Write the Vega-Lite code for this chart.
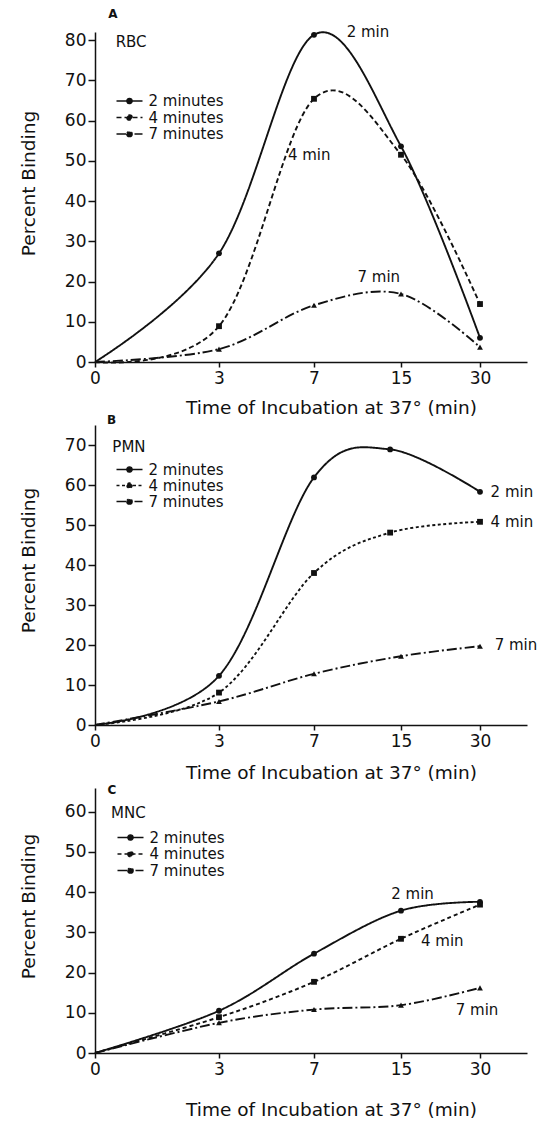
{
  "$schema": "https://vega.github.io/schema/vega-lite/v6.json",
  "background": "white",
  "padding": {"left": 19, "top": 8, "right": 0, "bottom": 0},
  "bounds": "flush",
  "spacing": 63,
  "config": {
    "font": "DejaVu Sans",
    "view": {"stroke": null},
    "axis": {
      "grid": false,
      "domainColor": "#111",
      "tickColor": "#111",
      "labelColor": "#111",
      "titleColor": "#111",
      "labelFont": "DejaVu Sans",
      "titleFont": "DejaVu Sans",
      "labelFontSize": 17,
      "titleFontSize": 18.5,
      "titleFontWeight": "normal",
      "domainWidth": 1.5,
      "tickWidth": 1.5
    },
    "legend": {
      "labelFont": "DejaVu Sans",
      "labelColor": "#111",
      "labelFontSize": 15
    },
    "text": {"font": "DejaVu Sans", "color": "#111"}
  },
  "datasets": {
    "pts": [
      {"panel": "A", "series": "2 minutes", "x": 0, "y": 0},
      {"panel": "A", "series": "2 minutes", "x": 3, "y": 27},
      {"panel": "A", "series": "2 minutes", "x": 7, "y": 81.3},
      {"panel": "A", "series": "2 minutes", "x": 15, "y": 53.6},
      {"panel": "A", "series": "2 minutes", "x": 30, "y": 6},
      {"panel": "A", "series": "4 minutes", "x": 0, "y": 0},
      {"panel": "A", "series": "4 minutes", "x": 3, "y": 8.9},
      {"panel": "A", "series": "4 minutes", "x": 7, "y": 65.4},
      {"panel": "A", "series": "4 minutes", "x": 15, "y": 51.5},
      {"panel": "A", "series": "4 minutes", "x": 30, "y": 14.4},
      {"panel": "A", "series": "7 minutes", "x": 0, "y": 0},
      {"panel": "A", "series": "7 minutes", "x": 3, "y": 3.2},
      {"panel": "A", "series": "7 minutes", "x": 7, "y": 14.1},
      {"panel": "A", "series": "7 minutes", "x": 15, "y": 16.9},
      {"panel": "A", "series": "7 minutes", "x": 30, "y": 3.7},
      {"panel": "B", "series": "2 minutes", "x": 0, "y": 0},
      {"panel": "B", "series": "2 minutes", "x": 3, "y": 12.3},
      {"panel": "B", "series": "2 minutes", "x": 7, "y": 61.9},
      {"panel": "B", "series": "2 minutes", "x": 14, "y": 68.9},
      {"panel": "B", "series": "2 minutes", "x": 30, "y": 58.3},
      {"panel": "B", "series": "4 minutes", "x": 0, "y": 0},
      {"panel": "B", "series": "4 minutes", "x": 3, "y": 8.1},
      {"panel": "B", "series": "4 minutes", "x": 7, "y": 38},
      {"panel": "B", "series": "4 minutes", "x": 14, "y": 48.1},
      {"panel": "B", "series": "4 minutes", "x": 30, "y": 50.8},
      {"panel": "B", "series": "7 minutes", "x": 0, "y": 0},
      {"panel": "B", "series": "7 minutes", "x": 3, "y": 5.9},
      {"panel": "B", "series": "7 minutes", "x": 7, "y": 12.8},
      {"panel": "B", "series": "7 minutes", "x": 15, "y": 17.2},
      {"panel": "B", "series": "7 minutes", "x": 30, "y": 19.7},
      {"panel": "C", "series": "2 minutes", "x": 0, "y": 0},
      {"panel": "C", "series": "2 minutes", "x": 3, "y": 10.5},
      {"panel": "C", "series": "2 minutes", "x": 7, "y": 24.7},
      {"panel": "C", "series": "2 minutes", "x": 15, "y": 35.4},
      {"panel": "C", "series": "2 minutes", "x": 30, "y": 37.6},
      {"panel": "C", "series": "4 minutes", "x": 0, "y": 0},
      {"panel": "C", "series": "4 minutes", "x": 3, "y": 8.9},
      {"panel": "C", "series": "4 minutes", "x": 7, "y": 17.7},
      {"panel": "C", "series": "4 minutes", "x": 15, "y": 28.4},
      {"panel": "C", "series": "4 minutes", "x": 30, "y": 36.9},
      {"panel": "C", "series": "7 minutes", "x": 0, "y": 0},
      {"panel": "C", "series": "7 minutes", "x": 3, "y": 7.5},
      {"panel": "C", "series": "7 minutes", "x": 7, "y": 10.8},
      {"panel": "C", "series": "7 minutes", "x": 15, "y": 11.9},
      {"panel": "C", "series": "7 minutes", "x": 30, "y": 16.2}
    ],
    "notes": [
      {"panel": "A", "kind": "letter", "text": "A", "x": 0.435, "y": 86.4},
      {"panel": "A", "kind": "label", "text": "RBC", "x": 0.5, "y": 79.5},
      {"panel": "A", "kind": "label", "text": "2 min", "x": 10.0, "y": 82},
      {"panel": "A", "kind": "label", "text": "4 min", "x": 5.9, "y": 51.5},
      {"panel": "A", "kind": "label", "text": "7 min", "x": 11.0, "y": 21},
      {"panel": "B", "kind": "letter", "text": "B", "x": 0.4, "y": 76.3},
      {"panel": "B", "kind": "label", "text": "PMN", "x": 0.42, "y": 69.5},
      {"panel": "B", "kind": "label", "text": "2 min", "x": 31.8, "y": 58.3},
      {"panel": "B", "kind": "label", "text": "4 min", "x": 31.8, "y": 50.8},
      {"panel": "B", "kind": "label", "text": "7 min", "x": 32.5, "y": 19.9},
      {"panel": "C", "kind": "letter", "text": "C", "x": 0.41, "y": 65.5},
      {"panel": "C", "kind": "label", "text": "MNC", "x": 0.39, "y": 59.7},
      {"panel": "C", "kind": "label", "text": "2 min", "x": 14.1, "y": 39.6},
      {"panel": "C", "kind": "label", "text": "4 min", "x": 18.8, "y": 27.8},
      {"panel": "C", "kind": "label", "text": "7 min", "x": 25.4, "y": 10.8}
    ]
  },
  "resolve": {
    "scale": {"strokeDash": "independent"},
    "legend": {"strokeDash": "independent"}
  },
  "vconcat": [
    {
      "width": 432,
      "height": 330,
      "encoding": {
        "x": {"field": "x", "type": "quantitative",
          "scale": {"domain": [0, 3, 7, 15, 30, 38], "range": [0, 124, 219, 306, 385, 432], "nice": false, "zero": false},
          "axis": {"values": [0, 3, 7, 15, 30], "title": "Time of Incubation at 37° (min)", "tickSize": 5, "labelPadding": 3, "titlePadding": 12, "titleX": 236, "labelFlush": false, "labelOverlap": false}},
        "y": {"field": "y", "type": "quantitative",
          "scale": {"domain": [0, 82], "nice": false, "zero": true},
          "axis": {"values": [0, 10, 20, 30, 40, 50, 60, 70, 80], "title": "Percent Binding", "tickSize": 7, "labelPadding": 2, "titlePadding": 26, "titleY": 151}}
      },
      "layer": [
        {
          "data": {"name": "pts"},
          "transform": [{"filter": "datum.panel === 'A'"}],
          "mark": {"type": "line", "interpolate": "cardinal", "color": "#111", "strokeWidth": 1.9},
          "encoding": {
            "strokeDash": {"field": "series", "type": "nominal",
              "scale": {"domain": ["2 minutes", "4 minutes", "7 minutes"], "range": [[1, 0], [5, 3], [10, 3, 2, 3]]},
              "legend": {"orient": "none", "legendX": 27, "legendY": 61.5, "title": null, "padding": 0,
                "symbolType": "M-2,0H2M-0.4,0A0.4,0.4,0,1,0,0.4,0A0.4,0.4,0,1,0,-0.4,0",
                "symbolSize": 169, "symbolStrokeWidth": 1.5, "symbolStrokeColor": "#111", "symbolFillColor": "#111",
                "labelOffset": 11.5, "rowPadding": 0.5}}
          }
        },
        {"data": {"name": "pts"}, "transform": [{"filter": "datum.panel === 'A' && datum.x > 0 && datum.series === '2 minutes'"}],
          "mark": {"type": "point", "filled": true, "color": "#111", "opacity": 1, "size": 34, "shape": "circle"}},
        {"data": {"name": "pts"}, "transform": [{"filter": "datum.panel === 'A' && datum.x > 0 && datum.series === '4 minutes'"}],
          "mark": {"type": "point", "filled": true, "color": "#111", "opacity": 1, "size": 34, "shape": "square"}},
        {"data": {"name": "pts"}, "transform": [{"filter": "datum.panel === 'A' && datum.x > 0 && datum.series === '7 minutes'"}],
          "mark": {"type": "point", "filled": true, "color": "#111", "opacity": 1, "size": 34, "shape": "triangle-up"}},
        {
          "data": {"name": "notes"},
          "transform": [{"filter": "datum.panel === 'A' && datum.kind === 'label'"}],
          "mark": {"type": "text", "align": "left", "baseline": "middle", "fontSize": 15},
          "encoding": {"text": {"field": "text"}}
        },
        {
          "data": {"name": "notes"},
          "transform": [{"filter": "datum.panel === 'A' && datum.kind === 'letter'"}],
          "mark": {"type": "text", "align": "center", "baseline": "middle", "fontSize": 12, "fontWeight": "bold"},
          "encoding": {"text": {"field": "text"}}
        }
      ]
    },
    {
      "width": 432,
      "height": 300,
      "encoding": {
        "x": {"field": "x", "type": "quantitative",
          "scale": {"domain": [0, 3, 7, 15, 30, 38], "range": [0, 124, 219, 306, 385, 432], "nice": false, "zero": false},
          "axis": {"values": [0, 3, 7, 15, 30], "title": "Time of Incubation at 37° (min)", "tickSize": 5, "labelPadding": 3, "titlePadding": 14, "titleX": 236, "labelFlush": false, "labelOverlap": false}},
        "y": {"field": "y", "type": "quantitative",
          "scale": {"domain": [0, 75], "nice": false, "zero": true},
          "axis": {"values": [0, 10, 20, 30, 40, 50, 60, 70], "title": "Percent Binding", "tickSize": 7, "labelPadding": 2, "titlePadding": 26, "titleY": 135}}
      },
      "layer": [
        {
          "data": {"name": "pts"},
          "transform": [{"filter": "datum.panel === 'B'"}],
          "mark": {"type": "line", "interpolate": "cardinal", "color": "#111", "strokeWidth": 1.9},
          "encoding": {
            "strokeDash": {"field": "series", "type": "nominal",
              "scale": {"domain": ["2 minutes", "4 minutes", "7 minutes"], "range": [[1, 0], [3, 2.5], [10, 3, 2, 3]]},
              "legend": {"orient": "none", "legendX": 27, "legendY": 37, "title": null, "padding": 0,
                "symbolType": "M-2,0H2M-0.4,0A0.4,0.4,0,1,0,0.4,0A0.4,0.4,0,1,0,-0.4,0",
                "symbolSize": 169, "symbolStrokeWidth": 1.5, "symbolStrokeColor": "#111", "symbolFillColor": "#111",
                "labelOffset": 11.5, "rowPadding": 0}}
          }
        },
        {"data": {"name": "pts"}, "transform": [{"filter": "datum.panel === 'B' && datum.x > 0 && datum.series === '2 minutes'"}],
          "mark": {"type": "point", "filled": true, "color": "#111", "opacity": 1, "size": 34, "shape": "circle"}},
        {"data": {"name": "pts"}, "transform": [{"filter": "datum.panel === 'B' && datum.x > 0 && datum.series === '4 minutes'"}],
          "mark": {"type": "point", "filled": true, "color": "#111", "opacity": 1, "size": 34, "shape": "square"}},
        {"data": {"name": "pts"}, "transform": [{"filter": "datum.panel === 'B' && datum.x > 0 && datum.series === '7 minutes'"}],
          "mark": {"type": "point", "filled": true, "color": "#111", "opacity": 1, "size": 34, "shape": "triangle-up"}},
        {
          "data": {"name": "notes"},
          "transform": [{"filter": "datum.panel === 'B' && datum.kind === 'label'"}],
          "mark": {"type": "text", "align": "left", "baseline": "middle", "fontSize": 15},
          "encoding": {"text": {"field": "text"}}
        },
        {
          "data": {"name": "notes"},
          "transform": [{"filter": "datum.panel === 'B' && datum.kind === 'letter'"}],
          "mark": {"type": "text", "align": "center", "baseline": "middle", "fontSize": 12, "fontWeight": "bold"},
          "encoding": {"text": {"field": "text"}}
        }
      ]
    },
    {
      "width": 432,
      "height": 265,
      "encoding": {
        "x": {"field": "x", "type": "quantitative",
          "scale": {"domain": [0, 3, 7, 15, 30, 38], "range": [0, 124, 219, 306, 385, 432], "nice": false, "zero": false},
          "axis": {"values": [0, 3, 7, 15, 30], "title": "Time of Incubation at 37° (min)", "tickSize": 5, "labelPadding": 3, "titlePadding": 23, "titleX": 236, "labelFlush": false, "labelOverlap": false}},
        "y": {"field": "y", "type": "quantitative",
          "scale": {"domain": [0, 65.9], "nice": false, "zero": true},
          "axis": {"values": [0, 10, 20, 30, 40, 50, 60], "title": "Percent Binding", "tickSize": 7, "labelPadding": 2, "titlePadding": 26, "titleY": 118}}
      },
      "layer": [
        {
          "data": {"name": "pts"},
          "transform": [{"filter": "datum.panel === 'C'"}],
          "mark": {"type": "line", "interpolate": "cardinal", "color": "#111", "strokeWidth": 1.9},
          "encoding": {
            "strokeDash": {"field": "series", "type": "nominal",
              "scale": {"domain": ["2 minutes", "4 minutes", "7 minutes"], "range": [[1, 0], [4, 3], [10, 3, 2, 3]]},
              "legend": {"orient": "none", "legendX": 28, "legendY": 42, "title": null, "padding": 0,
                "symbolType": "M-2,0H2M-0.4,0A0.4,0.4,0,1,0,0.4,0A0.4,0.4,0,1,0,-0.4,0",
                "symbolSize": 169, "symbolStrokeWidth": 1.5, "symbolStrokeColor": "#111", "symbolFillColor": "#111",
                "labelOffset": 11.5, "rowPadding": 0.5}}
          }
        },
        {"data": {"name": "pts"}, "transform": [{"filter": "datum.panel === 'C' && datum.x > 0 && datum.series === '2 minutes'"}],
          "mark": {"type": "point", "filled": true, "color": "#111", "opacity": 1, "size": 34, "shape": "circle"}},
        {"data": {"name": "pts"}, "transform": [{"filter": "datum.panel === 'C' && datum.x > 0 && datum.series === '4 minutes'"}],
          "mark": {"type": "point", "filled": true, "color": "#111", "opacity": 1, "size": 34, "shape": "square"}},
        {"data": {"name": "pts"}, "transform": [{"filter": "datum.panel === 'C' && datum.x > 0 && datum.series === '7 minutes'"}],
          "mark": {"type": "point", "filled": true, "color": "#111", "opacity": 1, "size": 34, "shape": "triangle-up"}},
        {
          "data": {"name": "notes"},
          "transform": [{"filter": "datum.panel === 'C' && datum.kind === 'label'"}],
          "mark": {"type": "text", "align": "left", "baseline": "middle", "fontSize": 15},
          "encoding": {"text": {"field": "text"}}
        },
        {
          "data": {"name": "notes"},
          "transform": [{"filter": "datum.panel === 'C' && datum.kind === 'letter'"}],
          "mark": {"type": "text", "align": "center", "baseline": "middle", "fontSize": 12, "fontWeight": "bold"},
          "encoding": {"text": {"field": "text"}}
        }
      ]
    }
  ]
}
